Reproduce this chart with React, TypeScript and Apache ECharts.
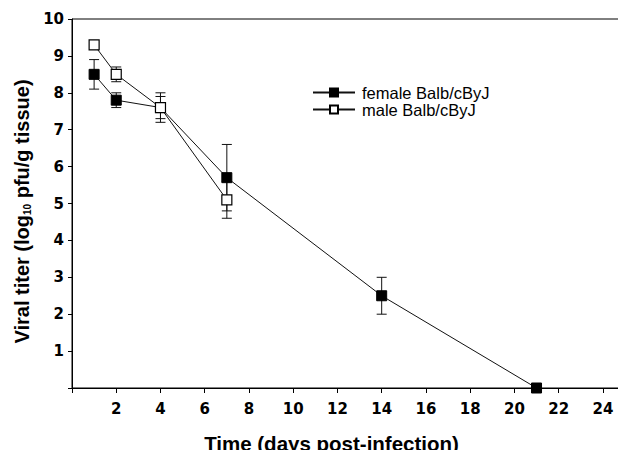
import React, { useEffect, useRef } from "react";
import * as echarts from "echarts";

const days = [1, 2, 4, 7, 14, 21];
const femaleMean = [8.5, 7.8, 7.6, 5.7, 2.5, 0];
const femaleErr = [0.4, 0.2, 0.4, 0.9, 0.5, 0];
const maleDays = [1, 2, 4, 7];
const maleMean = [9.3, 8.5, 7.6, 5.1];
const maleErr = [0, 0.2, 0.3, 0.5];

const FONT = "'Liberation Sans', Arial, Helvetica, sans-serif";
const BOLD = "'DejaVu Sans', 'Liberation Sans', Arial, sans-serif";

function errData(xs: number[], m: number[], e: number[]) {
  const out: number[][] = [];
  xs.forEach((x, i) => {
    if (e[i] > 0) out.push([x, m[i] - e[i], m[i] + e[i]]);
  });
  return out;
}

function renderErr(params: any, api: any) {
  const x = api.value(0);
  const lo = api.coord([x, api.value(1)]);
  const hi = api.coord([x, api.value(2)]);
  const w = 5;
  const style = { stroke: "#111", lineWidth: 1 };
  return {
    type: "group",
    children: [
      { type: "line", shape: { x1: lo[0], y1: lo[1], x2: hi[0], y2: hi[1] }, style },
      { type: "line", shape: { x1: lo[0] - w, y1: lo[1], x2: lo[0] + w, y2: lo[1] }, style },
      { type: "line", shape: { x1: hi[0] - w, y1: hi[1], x2: hi[0] + w, y2: hi[1] }, style },
    ],
  };
}

export default function App() {
  const ref = useRef<HTMLDivElement>(null);
  useEffect(() => {
    const chart = echarts.init(ref.current!, null, { renderer: "svg" });
    chart.setOption({
      animation: false,
      backgroundColor: "#fff",
      grid: {
        left: 72,
        right: 1,
        top: 19,
        bottom: 70,
        show: true,
        borderColor: "#000",
        borderWidth: 1,
        containLabel: false,
        outerBoundsMode: "none",
      },
      legend: {
        data: ["female Balb/cByJ", "male Balb/cByJ"],
        orient: "vertical",
        left: 307,
        top: 79,
        itemWidth: 42,
        itemHeight: 10,
        itemGap: 0,
        textStyle: { fontFamily: FONT, fontSize: 16.5, lineHeight: 14, color: "#000", padding: [0, 0, 0, 2] },
      },
      xAxis: {
        type: "value",
        min: 0,
        max: 25,
        interval: 2,
        name: "Time (days post-infection)",
        nameLocation: "middle",
        nameGap: 45,
        nameTextStyle: {
          fontFamily: FONT,
          fontSize: 20.5,
          fontWeight: "bold",
          color: "#000",
          padding: [0, 34, 0, 0],
        },
        axisLine: { onZero: false, lineStyle: { color: "#000", width: 1 } },
        axisTick: { show: true, length: 5, lineStyle: { color: "#000" } },
        splitLine: { show: false },
        axisLabel: {
          fontFamily: BOLD,
          fontSize: 15,
          fontWeight: "bold",
          color: "#000",
          margin: 13,
          formatter: (v: number) => (v === 0 || v === 25 ? "" : String(v)),
        },
      },
      yAxis: {
        type: "value",
        min: 0,
        max: 10,
        interval: 1,
        name: "Viral titer (log{sub|10} pfu/g tissue)",
        nameLocation: "middle",
        nameGap: 40,
        nameRotate: 90,
        nameTextStyle: {
          fontFamily: FONT,
          fontSize: 20,
          fontWeight: "bold",
          color: "#000",
          padding: [0, 16, 0, 0],
          rich: {
            sub: { fontFamily: FONT, fontSize: 10, fontWeight: "bold", color: "#000", verticalAlign: "bottom", padding: [8, 0, 0, 0] },
          },
        },
        axisLine: { show: true, lineStyle: { color: "#000", width: 1 } },
        axisTick: { show: true, length: 4, lineStyle: { color: "#000" } },
        splitLine: { show: false },
        axisLabel: {
          fontFamily: BOLD,
          fontSize: 15,
          fontWeight: "bold",
          color: "#000",
          margin: 8,
          formatter: (v: number) => (v === 0 ? "" : String(v)),
        },
      },
      series: [
        {
          type: "custom",
          name: "femaleErr",
          renderItem: renderErr,
          data: errData(days, femaleMean, femaleErr),
          z: 1,
          silent: true,
        },
        {
          type: "custom",
          name: "maleErr",
          renderItem: renderErr,
          data: errData(maleDays, maleMean, maleErr),
          z: 1,
          silent: true,
        },
        {
          type: "line",
          name: "female Balb/cByJ",
          data: days.map((d, i) => [d, femaleMean[i]]),
          symbol: "rect",
          symbolSize: 10,
          showAllSymbol: true,
          lineStyle: { color: "#111", width: 1 },
          itemStyle: { color: "#000", borderColor: "#000", borderWidth: 1 },
          z: 2,
        },
        {
          type: "line",
          name: "male Balb/cByJ",
          data: maleDays.map((d, i) => [d, maleMean[i]]),
          symbol: "rect",
          symbolSize: 10,
          showAllSymbol: true,
          lineStyle: { color: "#111", width: 1 },
          itemStyle: { color: "#fff", borderColor: "#000", borderWidth: 1.2 },
          z: 3,
        },
      ],
    });
    return () => chart.dispose();
  }, []);
  return <div ref={ref} style={{ width: 626, height: 458, margin: -8 }} />;
}
